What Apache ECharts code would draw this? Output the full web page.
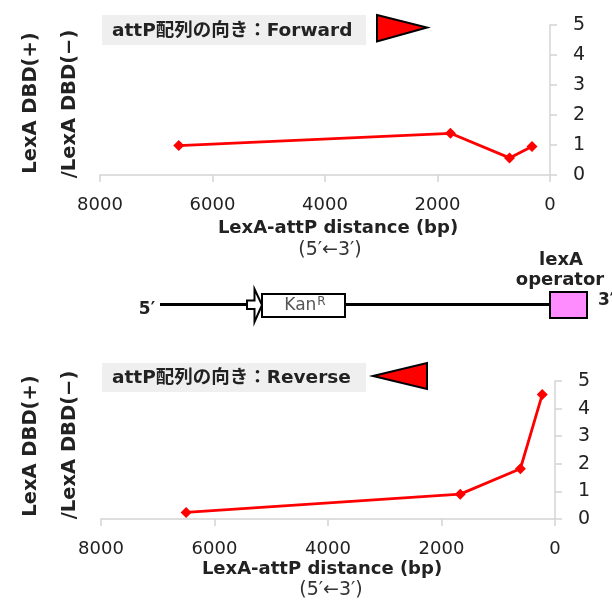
<!DOCTYPE html>
<html>
<head>
<meta charset="utf-8">
<script src="https://cdn.jsdelivr.net/npm/echarts@6/dist/echarts.min.js"></script>
<style>
html,body{margin:0;padding:0;background:#fff;}
#chart{width:612px;height:601px;}
</style>
</head>
<body>
<div id="chart"></div>
<script>
// ---- data ----
const fwdDistance = [6600, 1770, 720, 320];
const fwdRatio    = [0.98, 1.39, 0.57, 0.95];
const revDistance = [6500, 1670, 610, 225];
const revRatio    = [0.24, 0.90, 1.82, 4.51];
const fwdLegend = 'attP配列の向き：Forward';
const revLegend = 'attP配列の向き：Reverse';
const xName = 'LexA-attP distance (bp)';
const xSub = '(5′←3′)';
const yName1 = 'LexA DBD(+)';
const yName2 = '/LexA DBD(−)';

const FONT = '"DejaVu Sans", "Noto Sans CJK JP", sans-serif';
const chart = echarts.init(document.getElementById('chart'), null, {renderer: 'canvas'});

function pairs(xs, ys) { return xs.map((x, i) => [x, ys[i]]); }

const axisLineStyle = {color: '#d4d4d4', width: 1.5};
function xAxisDef(idx) {
  return {
    gridIndex: idx, type: 'value', inverse: true, min: 0, max: 8000, interval: 2000,
    axisLine: {show: true, lineStyle: axisLineStyle},
    axisTick: {show: true, length: 7, lineStyle: axisLineStyle},
    splitLine: {show: false},
    axisLabel: {color: '#222', fontSize: 18, fontFamily: FONT, margin: 21, formatter: v => String(v)}
  };
}
function yAxisDef(idx) {
  return {
    gridIndex: idx, type: 'value', position: 'right', min: 0, max: 5, interval: 1,
    axisLine: {show: true, lineStyle: axisLineStyle},
    axisTick: {show: true, length: 7, lineStyle: axisLineStyle},
    splitLine: {show: false},
    axisLabel: {color: '#222', fontSize: 19, fontFamily: FONT, margin: 23}
  };
}
function seriesDef(idx, data) {
  return {
    type: 'line', xAxisIndex: idx, yAxisIndex: idx, data: data,
    symbol: 'diamond', symbolSize: 11,
    lineStyle: {color: '#ff0000', width: 2.8},
    itemStyle: {color: '#ff0000'}
  };
}
function txt(text, x, y, opts) {
  return Object.assign({
    type: 'text', x: x, y: y, silent: true,
    style: Object.assign({text: text, font: 'bold 18px ' + FONT, fill: '#222', align: 'center', verticalAlign: 'middle'}, (opts && opts.style) || {})
  }, (opts && opts.el) || {});
}
const yNameStyle = {font: 'bold 19.5px ' + FONT};

const graphics = [
  // legend boxes
  {type: 'rect', shape: {x: 102, y: 15, width: 264, height: 30}, style: {fill: '#efefef'}},
  txt(fwdLegend, 112, 31, {style: {align: 'left', font: 'bold 18.5px ' + FONT}}),
  {type: 'polygon', shape: {points: [[377, 15], [427, 27.5], [377, 41.5]]}, style: {fill: '#ff0000', stroke: '#000', lineWidth: 2}},
  {type: 'rect', shape: {x: 102, y: 363, width: 264, height: 29}, style: {fill: '#efefef'}},
  txt(revLegend, 112, 378, {style: {align: 'left', font: 'bold 18.5px ' + FONT}}),
  {type: 'polygon', shape: {points: [[373, 376], [427, 363], [427, 389]]}, style: {fill: '#ff0000', stroke: '#000', lineWidth: 2}},
  // y axis names
  txt(yName1, 31, 103, {el: {rotation: Math.PI / 2}, style: yNameStyle}),
  txt(yName2, 70, 104, {el: {rotation: Math.PI / 2}, style: yNameStyle}),
  txt(yName1, 31, 446, {el: {rotation: Math.PI / 2}, style: yNameStyle}),
  txt(yName2, 70, 445, {el: {rotation: Math.PI / 2}, style: yNameStyle}),
  // x axis names
  txt(xName, 338, 228),
  txt(xSub, 330, 250, {style: {font: '19px ' + FONT, fill: '#333'}}),
  txt(xName, 322, 569),
  txt(xSub, 331, 590, {style: {font: '19px ' + FONT, fill: '#333'}}),
  // construct diagram
  {type: 'line', shape: {x1: 160, y1: 304.5, x2: 550, y2: 304.5}, style: {stroke: '#000', lineWidth: 3}},
  txt('5′', 147, 310, {style: {font: 'bold 17px ' + FONT}}),
  {type: 'polygon', shape: {points: [[247, 300.5], [254.5, 300.5], [254.5, 289], [262, 305], [254.5, 322], [254.5, 309], [247, 309]]},
   style: {fill: '#fff', stroke: '#000', lineWidth: 2}},
  {type: 'rect', shape: {x: 262, y: 294, width: 83, height: 23}, style: {fill: '#fff', stroke: '#000', lineWidth: 2}},
  {type: 'text', x: 305, y: 306, silent: true,
   style: {text: 'Kan{sup|R}', font: '17px ' + FONT, fill: '#555', align: 'center', verticalAlign: 'middle',
           rich: {sup: {fontSize: 12, fontFamily: FONT, fill: '#555', padding: [0, 0, 8, 1]}}}},
  {type: 'rect', shape: {x: 550, y: 292, width: 37, height: 26}, style: {fill: '#ff8cff', stroke: '#000', lineWidth: 2}},
  txt('lexA', 561, 260),
  txt('operator', 560, 280),
  txt('3′', 598, 301, {style: {font: 'bold 17px ' + FONT, align: 'left'}})
];

chart.setOption({
  animation: false,
  backgroundColor: '#fff',
  grid: [
    {left: 100, right: 62, top: 25, height: 150},
    {left: 101, right: 57, top: 381, height: 138}
  ],
  xAxis: [xAxisDef(0), xAxisDef(1)],
  yAxis: [yAxisDef(0), yAxisDef(1)],
  series: [seriesDef(0, pairs(fwdDistance, fwdRatio)), seriesDef(1, pairs(revDistance, revRatio))],
  graphic: graphics
});
</script>
</body>
</html>
